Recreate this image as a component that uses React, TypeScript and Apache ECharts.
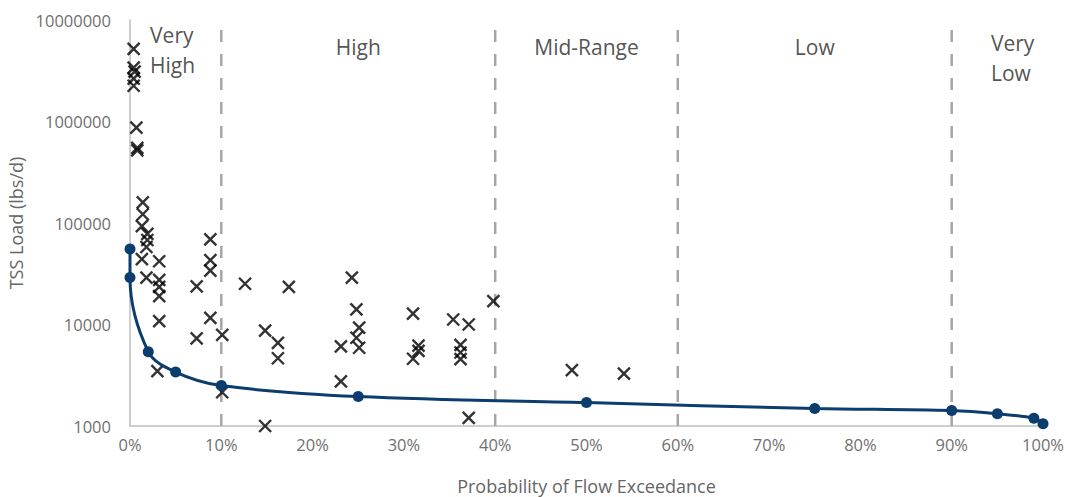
import React, { useEffect, useRef } from "react";
import * as echarts from "echarts";

// Load duration curve (probability of flow exceedance %, TSS load lbs/d)
const curveExceedance = [0, 0, 2, 5, 10, 25, 50, 75, 90, 95, 99, 100];
const curveLoad = [55500, 29000, 5400, 3400, 2500, 1950, 1700, 1490, 1420, 1320, 1190, 1050];

// Observed samples
const sampleExceedance = [
  0.4, 0.4, 0.5, 0.4, 0.4, 0.7, 0.8, 0.8,
  1.4, 1.4, 1.3, 1.9, 1.9, 1.8, 1.3, 1.8,
  3.2, 3.2, 3.2, 3.2, 3.2, 3.0,
  7.3, 8.8, 8.8, 8.8, 8.8, 7.3, 10.1, 10.1,
  12.6, 14.8, 16.2, 16.2, 17.4, 14.8,
  23.1, 23.1, 24.3, 24.8, 25.1, 24.8, 25.1,
  31.0, 31.6, 31.6, 31.0,
  35.4, 37.1, 36.2, 36.2, 36.2, 37.1,
  39.8, 48.4, 54.1,
];
const sampleLoad = [
  5200000, 3400000, 3100000, 2650000, 2250000, 870000, 550000, 520000,
  160000, 122000, 93000, 78000, 68000, 58000, 44000, 29000,
  42000, 27500, 23500, 19000, 10800, 3470,
  23800, 69000, 43000, 34000, 11600, 7300, 7900, 2150,
  25200, 8700, 6600, 4650, 23500, 1000,
  6100, 2750, 29000, 14100, 9300, 7400, 5900,
  12800, 6200, 5500, 4600,
  11200, 10000, 6300, 5300, 4550, 1200,
  17000, 3550, 3280,
];

// Flow zones
const zoneBoundaries = [10, 40, 60, 90];
const zoneNames = ["Very\nHigh", "High", "Mid-Range", "Low", "Very\nLow"];
const zoneLabelExceedance = [2.2, 25, 50, 75, 94.3];
const zoneLabelLoad = [5060000, 5480000, 5480000, 5480000, 4270000];
const zoneLabelAlign = ["left", "center", "center", "center", "left"];

const FONT = "'Open Sans', sans-serif";
const NAVY = "#0B3D6E";

export default function App() {
  const ref = useRef<HTMLDivElement>(null);

  useEffect(() => {
    if (!ref.current) return;
    const chart = echarts.init(ref.current, undefined, { renderer: "svg" });

    const boundarySeries = zoneBoundaries.map((b) => ({
      type: "line",
      data: [
        [b, 1000],
        [b, 10000000],
      ],
      symbol: "none",
      silent: true,
      z: 1,
      lineStyle: { color: "#A6A6A6", width: 2.5, type: [12, 12] },
    }));

    chart.setOption({
      animation: false,
      backgroundColor: "#ffffff",
      textStyle: { fontFamily: FONT },
      grid: {
        left: 130,
        right: 27,
        top: 20,
        bottom: 71,
        containLabel: false,
        outerBoundsMode: "none",
      },
      xAxis: {
        type: "value",
        min: 0,
        max: 100,
        interval: 10,
        name: "Probability of Flow Exceedance",
        nameLocation: "middle",
        nameGap: 51,
        nameTextStyle: { fontSize: 18, color: "#666666", fontFamily: FONT },
        axisLine: { show: true, lineStyle: { color: "#BFBFBF", width: 1.5 } },
        axisTick: { show: false },
        splitLine: { show: false },
        axisLabel: {
          formatter: "{value}%",
          fontSize: 16.5,
          color: "#707070",
          margin: 10,
          fontFamily: FONT,
        },
      },
      yAxis: {
        type: "log",
        logBase: 10,
        min: 1000,
        max: 10000000,
        name: "TSS Load (lbs/d)",
        nameLocation: "middle",
        nameGap: 98,
        nameTextStyle: { fontSize: 18, color: "#666666", fontFamily: FONT },
        axisLine: { show: true, lineStyle: { color: "#BFBFBF", width: 1.5 } },
        axisTick: { show: false },
        splitLine: { show: false },
        axisLabel: {
          formatter: (v: number) => String(Math.round(v)),
          fontSize: 16.5,
          color: "#707070",
          margin: 19,
          fontFamily: FONT,
        },
      },
      series: [
        ...boundarySeries,
        {
          type: "scatter",
          data: sampleExceedance.map((x, i) => [x, sampleLoad[i]]),
          symbol: "path://M0,0L10,10M10,0L0,10",
          symbolSize: 12,
          z: 3,
          itemStyle: { color: "#000000", borderColor: "#000000", borderWidth: 2.4 },
        },
        {
          type: "line",
          data: curveExceedance.map((x, i) => [x, curveLoad[i]]),
          smooth: 0.35,
          symbol: "circle",
          symbolSize: 11,
          z: 4,
          lineStyle: { color: NAVY, width: 3 },
          itemStyle: { color: NAVY },
        },
        {
          type: "scatter",
          symbolSize: 0,
          silent: true,
          z: 5,
          data: zoneNames.map((n, i) => ({
            name: n,
            value: [zoneLabelExceedance[i], zoneLabelLoad[i]],
            label: { align: zoneLabelAlign[i] },
          })),
          label: {
            show: true,
            position: [0, 0],
            verticalAlign: "middle",
            formatter: (p: any) => p.name,
            fontSize: 21,
            lineHeight: 30,
            color: "#262626",
            fontFamily: FONT,
          },
        },
      ],
    });

    return () => chart.dispose();
  }, []);

  return (
    <div
      ref={ref}
      style={{ position: "fixed", left: 0, top: 0, width: 1070, height: 497, background: "#fff" }}
    />
  );
}
